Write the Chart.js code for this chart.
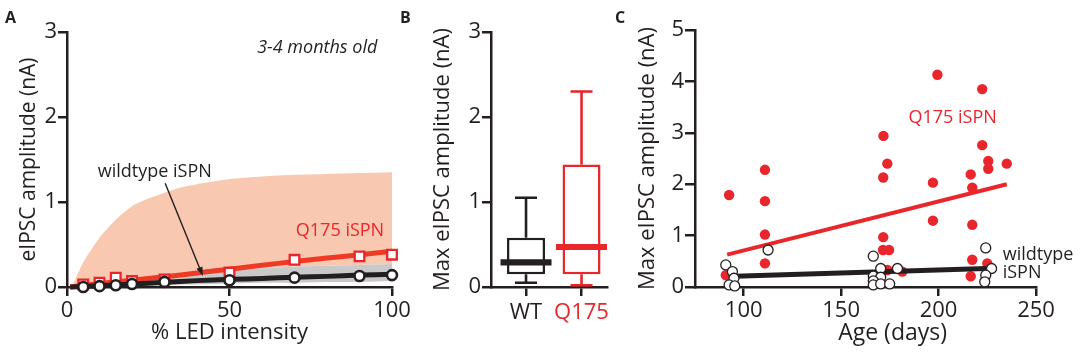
<!DOCTYPE html>
<html><head><meta charset="utf-8">
<script src="https://cdn.jsdelivr.net/npm/chart.js@4.4.0/dist/chart.umd.min.js"></script>
<style>
html,body{margin:0;padding:0;background:#fff;}
#wrap{position:relative;width:1084px;height:352px;overflow:hidden;background:#fff;}
canvas{position:absolute;top:0;}
</style></head><body>
<div id="wrap">
<canvas id="cA" width="420" height="352" style="left:0px"></canvas>
<canvas id="cB" width="210" height="352" style="left:400px"></canvas>
<canvas id="cC" width="474" height="352" style="left:610px"></canvas>
</div>
<script>
// ---------- Panel A data ----------
const ledIntensity = [5, 10, 15, 20, 30, 50, 70, 90, 100];
const q175Amp = [0.03, 0.05, 0.11, 0.07, 0.09, 0.17, 0.32, 0.36, 0.38];
const wtAmp = [0.0, 0.01, 0.02, 0.035, 0.06, 0.08, 0.11, 0.13, 0.14];
const fitIntensity = [1, 10, 20, 30, 40, 50, 60, 70, 80, 90, 100, 103];
const q175Fit = [0.0, 0.04, 0.08, 0.12, 0.165, 0.21, 0.255, 0.3, 0.34, 0.38, 0.42, 0.435];
const wtFit = [0.0, 0.015, 0.035, 0.055, 0.075, 0.09, 0.10, 0.115, 0.125, 0.14, 0.15, 0.155];
const bandIntensity = [1.5, 5, 10, 15, 20, 25, 30, 35, 40, 50, 60, 70, 80, 90, 100];
const q175BandHigh = [0, 0.29, 0.58, 0.79, 0.95, 1.04, 1.11, 1.17, 1.21, 1.27, 1.3, 1.32, 1.33, 1.34, 1.35];
const wtBandHigh = [0, 0.03, 0.05, 0.07, 0.09, 0.11, 0.13, 0.15, 0.17, 0.2, 0.22, 0.24, 0.25, 0.26, 0.27];
const wtBandLow = [0, 0, 0, 0.005, 0.01, 0.015, 0.02, 0.03, 0.03, 0.04, 0.05, 0.05, 0.06, 0.06, 0.07];
const ticksA_x = [0, 50, 100];
const ticksA_y = [0, 1, 2, 3];

// ---------- Panel B data ----------
const boxGroups = ['WT', 'Q175'];
const boxMin = [0.05, 0.02];
const boxQ1 = [0.15, 0.15];
const boxMedian = [0.29, 0.47];
const boxQ3 = [0.58, 1.44];
const boxMax = [1.05, 2.30];

// ---------- Panel C data ----------
const q175Age = [92.5, 90.8, 110.9, 110.9, 110.9, 110.9, 171.7, 173.7, 171.6, 171.6, 171.5, 174.6, 173.7, 181.4,
  199.4, 197.1, 197.1, 222.4, 222.4, 216.5, 217.3, 217.3, 217.3, 216.5, 225.5, 225.5, 235.0, 225.0];
const q175Max = [1.79, 0.23, 2.28, 1.67, 1.02, 0.46, 2.94, 2.40, 2.13, 0.97, 0.72, 0.72, 0.33, 0.30,
  4.13, 2.03, 1.29, 3.85, 2.76, 2.19, 1.93, 1.21, 0.53, 0.21, 2.45, 2.30, 2.40, 0.46];
const wtAge = [90.8, 94.2, 95.0, 92.5, 95.4, 112.5, 166.5, 170.3, 166.5, 170.3, 166.5, 166.5, 170.3, 174.9, 178.9,
  224.2, 227.2, 224.2, 223.7];
const wtMax = [0.43, 0.30, 0.17, 0.04, 0.02, 0.72, 0.60, 0.36, 0.21, 0.19, 0.12, 0.04, 0.06, 0.06, 0.36,
  0.76, 0.36, 0.23, 0.10];
const q175FitAge = [91.5, 235.0];
const q175FitMax = [0.63, 2.00];
const wtFitAge = [95.5, 224.5];
const wtFitMax = [0.21, 0.36];
const ticksC_x = [100, 150, 200, 250];

// ---------- styling ----------
const INK = '#231f20', RED = '#e8262b', RED_LINE = '#ee3a25', PINK = '#f8c8b0', GREY = '#c9c9c9';
const FONT = '"Open Sans", "Noto Sans", sans-serif';
Chart.defaults.font.family = FONT;
Chart.defaults.color = INK;

function zeroPad(s) { s.paddingLeft = 0; s.paddingRight = 0; s.paddingTop = 0; s.paddingBottom = 0; }
function linAxis(cfg) {
  const ax = {
    type: 'linear', min: cfg.min, max: cfg.max, offset: false,
    border: {display: true, color: INK, width: 2.5},
    grid: {display: true, drawOnChartArea: false, drawTicks: true, tickLength: cfg.tl || 9,
           tickWidth: 2.5, tickColor: INK, color: INK, lineWidth: 2.5, offset: false},
    ticks: Object.assign({font: {size: 22}, color: INK, padding: cfg.tp || 0, autoSkip: false,
                          maxRotation: 0, minRotation: 0}, cfg.ticks || {}),
    title: cfg.title || {display: false},
    afterFit(s) { if (s.isHorizontal()) s.height = cfg.size; else s.width = cfg.size; zeroPad(s); }
  };
  if (cfg.tickValues) ax.afterBuildTicks = (s) => { s.ticks = cfg.tickValues.map(v => ({value: v})); };
  return ax;
}
function txt(ctx, text, x, y, font, color, align) {
  ctx.save(); ctx.font = font; ctx.fillStyle = color || INK; ctx.textAlign = align || 'center';
  ctx.textBaseline = 'middle'; ctx.fillText(text, x, y); ctx.restore();
}
const pts = (xs, ys) => xs.map((x, i) => ({x: x, y: ys[i]}));
const common = {responsive: false, animation: false, events: [],
  plugins: {legend: {display: false}, tooltip: {enabled: false}}};

// ---------- Panel A ----------
new Chart(document.getElementById('cA'), {
  type: 'line',
  data: {datasets: [
    {data: pts(ledIntensity, wtAmp), showLine: false, pointRadius: 5, pointBorderWidth: 2.6,
     pointBackgroundColor: '#fff', pointBorderColor: INK, clip: false},
    {data: pts(fitIntensity, wtFit), borderColor: INK, borderWidth: 5, pointRadius: 0, tension: 0.3, clip: false},
    {data: pts(ledIntensity, q175Amp), showLine: false, pointStyle: 'rect', pointRadius: 6.8, pointBorderWidth: 2.3,
     pointBackgroundColor: '#fff', pointBorderColor: RED, clip: false},
    {data: pts(fitIntensity, q175Fit), borderColor: RED_LINE, borderWidth: 5, pointRadius: 0, tension: 0.3, clip: false},
    {data: pts(bandIntensity, wtBandHigh), borderWidth: 0, pointRadius: 0, fill: '+1', backgroundColor: GREY, borderColor: 'rgba(0,0,0,0)'},
    {data: pts(bandIntensity, wtBandLow), borderWidth: 0, pointRadius: 0, fill: false, borderColor: 'rgba(0,0,0,0)'},
    {data: pts(bandIntensity, q175BandHigh), borderWidth: 0, pointRadius: 0, fill: 4, backgroundColor: PINK,
     borderColor: 'rgba(0,0,0,0)', tension: 0.2}
  ]},
  options: Object.assign({}, common, {
    layout: {padding: {left: 4, top: 32, right: 28, bottom: 0}},
    scales: {
      x: linAxis({min: 0, max: 100, size: 65, tl: 9, tp: 2, tickValues: ticksA_x,
        title: {display: true, text: '% LED intensity', font: {size: 22}, color: INK, padding: {top: 0, bottom: 6}}}),
      y: linAxis({min: 0, max: 3, size: 63, tl: 9, tp: 1, tickValues: ticksA_y,
        title: {display: true, text: 'eIPSC amplitude (nA)', font: {size: 21}, color: INK, padding: {top: 12, bottom: 0}}})
    }
  }),
  plugins: [{id: 'annoA', afterDraw(chart) {
    const {ctx} = chart; const x = chart.scales.x, y = chart.scales.y;
    txt(ctx, 'A', 5, 18, 'bold 16px ' + FONT, INK, 'left');
    txt(ctx, '3-4 months old', x.getPixelForValue(77), y.getPixelForValue(2.81), 'italic 18px ' + FONT);
    txt(ctx, 'wildtype iSPN', x.getPixelForValue(27), y.getPixelForValue(1.35), '18px ' + FONT);
    txt(ctx, 'Q175 iSPN', x.getPixelForValue(84), y.getPixelForValue(0.66), '18px ' + FONT, RED);
    const x1 = x.getPixelForValue(30.2), y1 = y.getPixelForValue(1.22);
    const x2 = x.getPixelForValue(41.8), y2 = y.getPixelForValue(0.13);
    const a = Math.atan2(y2 - y1, x2 - x1);
    ctx.save(); ctx.strokeStyle = INK; ctx.fillStyle = INK; ctx.lineWidth = 1.4;
    ctx.beginPath(); ctx.moveTo(x1, y1); ctx.lineTo(x2 - 6 * Math.cos(a), y2 - 6 * Math.sin(a)); ctx.stroke();
    ctx.beginPath(); ctx.moveTo(x2, y2);
    ctx.lineTo(x2 - 9 * Math.cos(a) + 3.2 * Math.sin(a), y2 - 9 * Math.sin(a) - 3.2 * Math.cos(a));
    ctx.lineTo(x2 - 9 * Math.cos(a) - 3.2 * Math.sin(a), y2 - 9 * Math.sin(a) + 3.2 * Math.cos(a));
    ctx.closePath(); ctx.fill(); ctx.restore();
  }}]
});

// ---------- Panel B ----------
const boxPos = [1, 2];
const boxColors = [INK, RED];
const barBase = {type: 'bar', grouped: false, barPercentage: 1, categoryPercentage: 1, borderWidth: 0,
  borderSkipped: false, inflateAmount: 0};
new Chart(document.getElementById('cB'), {
  type: 'bar',
  data: {datasets: [
    Object.assign({}, barBase, {data: boxPos.map((p, i) => ({x: p, y: [boxMedian[i] - 0.036, boxMedian[i] + 0.036]})),
      backgroundColor: boxColors, maxBarThickness: 51}),
    Object.assign({}, barBase, {data: boxPos.map((p, i) => ({x: p, y: [boxQ1[i], boxQ3[i]]})),
      backgroundColor: '#fff', borderColor: boxColors, borderWidth: 2.5, maxBarThickness: 38}),
    Object.assign({}, barBase, {data: boxPos.map((p, i) => ({x: p, y: [boxQ3[i], boxMax[i]]})),
      backgroundColor: boxColors, maxBarThickness: 2.6}),
    Object.assign({}, barBase, {data: boxPos.map((p, i) => ({x: p, y: [boxMin[i], boxQ1[i]]})),
      backgroundColor: boxColors, maxBarThickness: 2.6}),
    Object.assign({}, barBase, {data: boxPos.map((p, i) => ({x: p, y: [boxMax[i] - 0.015, boxMax[i] + 0.015]})),
      backgroundColor: boxColors, maxBarThickness: 22}),
    Object.assign({}, barBase, {data: boxPos.map((p, i) => ({x: p, y: [boxMin[i] - 0.015, boxMin[i] + 0.015]})),
      backgroundColor: boxColors, maxBarThickness: 22})
  ]},
  options: Object.assign({}, common, {
    layout: {padding: {left: 4, top: 32, right: 3, bottom: 0}},
    scales: {
      x: linAxis({min: 0.369, max: 2.459, size: 65, tl: 9, tp: 4, tickValues: boxPos,
        ticks: {callback: v => boxGroups[v - 1], color: c => (c.tick && c.tick.value === 2) ? RED : INK}}),
      y: linAxis({min: 0, max: 3, size: 87, tl: 9, tp: 1, tickValues: ticksA_y,
        title: {display: true, text: 'Max eIPSC amplitude (nA)', font: {size: 22}, color: INK, padding: {top: 26, bottom: 0}}})
    }
  }),
  plugins: [{id: 'annoB', afterDraw(chart) { txt(chart.ctx, 'B', 0, 18, 'bold 16px ' + FONT, INK, 'left'); }}]
});

// ---------- Panel C ----------
new Chart(document.getElementById('cC'), {
  type: 'scatter',
  data: {datasets: [
    {data: pts(wtAge, wtMax), pointRadius: 5, pointBorderWidth: 1.3, pointBackgroundColor: '#fff',
     pointBorderColor: INK, clip: false},
    {data: pts(wtFitAge, wtFitMax), showLine: true, borderColor: INK, borderWidth: 5, pointRadius: 0, clip: false},
    {data: pts(q175FitAge, q175FitMax), showLine: true, borderColor: RED, borderWidth: 4, pointRadius: 0, clip: false},
    {data: pts(q175Age, q175Max), pointRadius: 5.2, pointBorderWidth: 0, pointBackgroundColor: RED, clip: false}
  ]},
  options: Object.assign({}, common, {
    layout: {padding: {left: 4, top: 30, right: 48, bottom: 0}},
    scales: {
      x: linAxis({min: 75, max: 250, size: 65, tl: 9, tp: 2, tickValues: ticksC_x}),
      y: linAxis({min: 0, max: 5, size: 81, tl: 10, tp: 1, tickValues: [0, 1, 2, 3, 4, 5],
        title: {display: true, text: 'Max eIPSC amplitude (nA)', font: {size: 22}, color: INK, padding: {top: 21, bottom: 0}}})
    }
  }),
  plugins: [{id: 'annoC', afterDraw(chart) {
    const {ctx} = chart; const x = chart.scales.x, y = chart.scales.y;
    txt(ctx, 'C', 5, 18, 'bold 16px ' + FONT, INK, 'left');
    txt(ctx, 'Q175 iSPN', x.getPixelForValue(207.2), y.getPixelForValue(3.29), '18px ' + FONT, RED);
    txt(ctx, 'wildtype', x.getPixelForValue(232.9), y.getPixelForValue(0.62), '18px ' + FONT, INK, 'left');
    txt(ctx, 'iSPN', x.getPixelForValue(232.9), y.getPixelForValue(0.27), '18px ' + FONT, INK, 'left');
    txt(ctx, 'Age (days)', x.getPixelForValue(176.4), chart.chartArea.bottom + 46, '23px ' + FONT, INK);
  }}]
});
</script>
</body></html>
